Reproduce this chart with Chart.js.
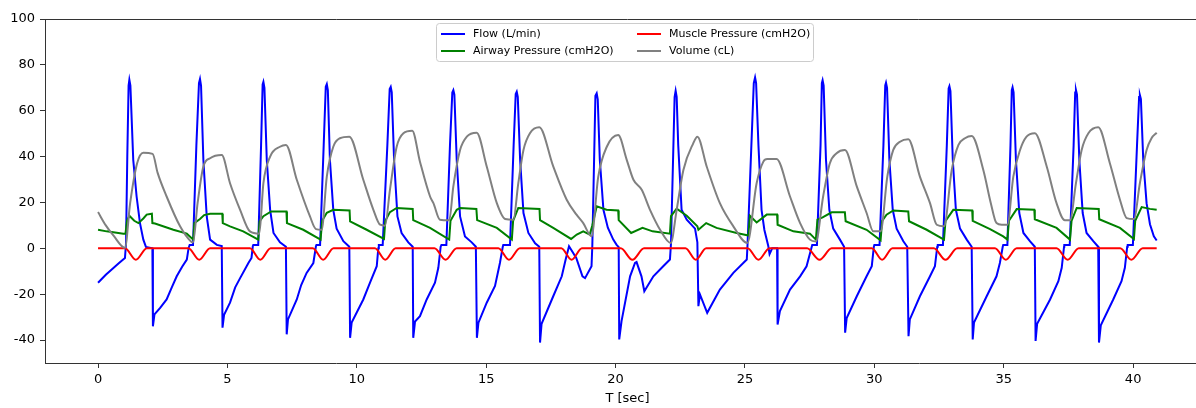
<!DOCTYPE html>
<html lang="en">
<head>
    <meta charset="UTF-8">
    <title>Ventilator waveforms</title>
    <script src="https://cdn.jsdelivr.net/npm/chart.js"></script>
    <style>
        html, body { margin: 0; padding: 0; overflow: hidden; background: #fff; }
        #wrap { width: 1215px; height: 408px; }
    </style>
</head>
<body>
<div id="wrap"><canvas id="myChart" width="1215" height="408"></canvas></div>
<script>
    // [time (s), value] pairs
    const flow = [
        [0,-15],[0.3,-11.5],[0.55,-9],[0.8,-6.5],[1.04,-4.2],[1.08,2],[1.13,40],[1.18,71],[1.21,73.5],[1.25,71],
        [1.36,38.6],[1.49,22.6],[1.62,11],[1.75,3.8],[1.85,0.6],[2.1,0],[2.12,-34],[2.18,-28.8],
        [2.4,-26],[2.65,-22.3],[2.85,-17],[3.04,-12.2],[3.25,-8],[3.43,-4.9],[3.5,0.2],[3.54,1.5],[3.67,1.5],
        [3.8,45],[3.9,72],[3.94,73.8],[3.98,71],[4.07,38.6],[4.2,13.9],[4.33,3.8],[4.59,1.5],[4.78,1],[4.81,-34.6],[4.87,-29],
        [5.1,-23.7],[5.3,-17],[5.49,-13],[5.81,-6.4],[5.93,-4.2],[5.98,0.9],[6.0,1.5],[6.19,1.5],
        [6.3,45],[6.36,71.5],[6.39,72.6],[6.43,70],[6.52,38.6],[6.65,16.8],[6.78,6.7],[7.03,2.6],[7.26,0.7],[7.29,-37.5],[7.34,-31],
        [7.68,-22.3],[7.85,-16],[8.06,-10.7],[8.32,-6.4],[8.42,0.9],[8.44,1.5],[8.58,1.5],
        [8.72,45],[8.8,70.5],[8.84,71.6],[8.88,69],[8.96,38.6],[9.09,16.8],[9.22,8.6],[9.48,3.1],[9.71,0.7],[9.74,-39],[9.8,-32.4],
        [10.25,-22.3],[10.51,-15],[10.77,-7.8],[10.83,0],[10.85,1.5],[11.0,1.5],
        [11.18,45],[11.27,69.5],[11.31,70.4],[11.35,68],[11.44,38.6],[11.57,13.9],[11.73,6.7],[11.99,2.6],[12.16,0.7],[12.18,-39],[12.25,-31.9],
        [12.44,-29.6],[12.7,-22.3],[13.02,-15],[13.15,-8.5],[13.24,0.7],[13.27,1.5],[13.46,1.5],
        [13.6,45],[13.69,68],[13.73,69],[13.77,67],[13.86,38.6],[13.99,13.9],[14.18,5.2],[14.44,2.6],[14.6,0.7],[14.64,-39],[14.7,-32.4],
        [15.02,-23.7],[15.34,-16.4],[15.53,-6.4],[15.64,0.7],[15.66,1.5],[15.92,1.5],
        [16.06,45],[16.14,67.3],[16.18,68.3],[16.22,66],[16.31,38.6],[16.44,15.4],[16.63,6.7],[16.89,2.2],[17.05,0.7],[17.08,-41.1],[17.14,-32.9],
        [17.59,-20.9],[17.92,-12.2],[18.07,-4.9],[18.2,0.9],[18.48,-4.2],[18.72,-12.2],[18.82,-13],[19.07,-7.8],
        [19.1,1],[19.22,66.5],[19.27,67.6],[19.31,65],[19.39,38.6],[19.53,16.8],[19.7,9],[19.91,3.8],[20.04,1.5],[20.12,0.5],[20.14,-39.7],[20.23,-31.7],
        [20.56,-12.2],[20.75,-6.4],[20.81,-6],[21.0,-12.2],[21.11,-18.7],[21.46,-12.2],[21.84,-7.8],[22.1,-4.9],
        [22.14,2],[22.28,66],[22.32,68.7],[22.36,66],[22.42,45],[22.55,16.8],[22.75,12.5],[23.07,8.6],[23.16,2.6],[23.2,-25.2],[23.26,-20.1],
        [23.54,-28.1],[24.03,-18],[24.55,-10.7],[25.07,-4.9],
        [25.1,2],[25.34,72],[25.39,74.5],[25.43,72],[25.52,45],[25.64,16.8],[25.75,8],[25.9,1],[25.95,-2.5],[26.05,0],[26.24,0],[26.26,-33.2],[26.35,-27.4],
        [26.74,-18],[27.13,-12.2],[27.38,-7.8],[27.58,0.7],[27.6,1.5],[27.78,1.5],
        [27.92,45],[27.97,72],[28.0,73.3],[28.04,71],[28.13,38.6],[28.26,16.8],[28.41,8.6],[28.67,3.8],[28.83,0.7],[28.87,-36.8],[28.93,-30.4],
        [29.32,-20.9],[29.7,-12.2],[29.9,-7.8],[29.98,0.7],[30.0,1.5],[30.2,1.5],
        [30.35,45],[30.42,71],[30.45,72.2],[30.49,70],[30.58,38.6],[30.71,16.8],[30.86,8.6],[31.12,3.1],[31.27,0.7],[31.32,-38.3],[31.37,-31],
        [31.76,-20.9],[32.15,-12.2],[32.34,-7.8],[32.43,0.7],[32.45,1.5],[32.65,1.5],
        [32.8,45],[32.87,69.7],[32.9,70.7],[32.94,68.5],[33.03,38.6],[33.15,16.8],[33.31,8.6],[33.57,3.8],[33.76,0.7],[33.8,-39.7],[33.85,-32.4],
        [34.34,-20.9],[34.72,-12.2],[34.85,-6.4],[34.96,0.7],[34.98,1.5],[35.14,1.5],
        [35.26,45],[35.31,69],[35.34,70.2],[35.38,68],[35.47,38.6],[35.6,15.4],[35.76,6.7],[36.01,3.1],[36.2,0.7],[36.23,-40.4],[36.29,-32.9],
        [36.79,-22.3],[37.11,-14.3],[37.24,-8.5],[37.33,0.7],[37.34,1.5],[37.55,1.5],
        [37.7,45],[37.76,68],[37.79,69],[37.83,67],[37.92,38.6],[38.05,15.4],[38.2,6.7],[38.46,3.1],[38.65,0.7],[38.68,-41.1],[38.75,-33.6],
        [39.23,-22.3],[39.55,-14.3],[39.68,-8.5],[39.77,0.7],[39.79,1.5],[39.99,1.5],
        [40.15,45],[40.23,66],[40.26,66.8],[40.3,65],[40.39,38.6],[40.52,19.6],[40.65,10.5],[40.8,5.2],[40.91,3.4]
    ];

    const airway = [
        [0,8.1],[0.33,7.4],[0.98,6.4],[1.06,6.4],[1.12,12],[1.21,14.2],[1.4,12],[1.56,11],[1.75,13],[1.88,14.7],[2.08,15.1],[2.1,11],
        [2.2,10.8],[2.91,8.1],[3.43,6.4],[3.68,3.8],[3.72,11],[3.94,12.8],[4.1,14.5],[4.33,15.1],[4.8,15.1],[4.82,11],
        [5.1,9.6],[5.61,7.4],[6.19,3.8],[6.24,11.7],[6.39,14],[6.69,16.1],[7.28,16.1],[7.3,11],
        [7.93,8.1],[8.6,3.8],[8.66,12],[8.84,15.5],[9.09,16.8],[9.72,16.5],[9.74,11.8],
        [10.38,8.1],[11.05,4.1],[11.1,12],[11.28,15.8],[11.54,17.6],[12.16,17.2],[12.18,12.3],
        [12.83,8.9],[13.57,3.8],[13.62,12],[13.86,16.8],[13.99,17.6],[14.62,17.2],[14.65,12.3],
        [15.41,8.9],[15.99,3.8],[16.04,12],[16.24,17.6],[17.06,17.2],[17.08,12.3],
        [17.59,8.9],[18.28,4.1],[18.5,6],[18.75,7.4],[19.0,6],[19.1,10],[19.27,18.3],[19.65,16.8],[20.1,16.5],[20.12,12.3],
        [20.6,6.7],[21.04,8.9],[21.43,7.4],[22.1,6.4],[22.14,14],[22.36,17.3],[22.75,14.2],[23.16,9.6],[23.2,8.1],
        [23.5,11],[23.9,8.9],[24.68,6.7],[25.13,5.6],[25.19,14.2],[25.45,11.3],[25.84,14.7],[26.24,14.7],[26.26,10.3],
        [26.87,7.4],[27.51,6.4],[27.74,3.8],[27.8,12.5],[28.0,13.5],[28.35,15.7],[28.86,15.7],[28.89,11.8],
        [29.7,8.1],[30.24,3.5],[30.3,12],[30.47,14.7],[30.73,16.5],[31.31,16.1],[31.34,11.8],
        [32.02,8.1],[32.69,3.8],[32.75,12],[33.05,16.8],[33.78,16.5],[33.8,12],
        [34.47,8.4],[34.98,5.2],[35.14,3.8],[35.2,12],[35.5,17.1],[36.18,16.8],[36.2,12.7],
        [37.04,8.9],[37.56,3.8],[37.62,12],[37.82,17.6],[38.67,17.2],[38.69,12.7],
        [39.49,8.9],[40.03,4.1],[40.08,12],[40.33,18],[40.65,17.2],[40.91,16.8]
    ];

    const muscle = [
        [0,0],
        [1.04,0],[1.46,-5],[1.89,0],
        [3.49,0],[3.91,-5],[4.33,0],
        [5.87,0],[6.27,-5],[6.67,0],
        [8.3,0],[8.7,-5],[9.1,0],
        [10.7,0],[11.1,-5],[11.5,0],
        [13.0,0],[13.43,-5],[13.86,0],
        [15.47,0],[15.88,-5],[16.3,0],
        [17.9,0],[18.3,-5],[18.7,0],
        [20.2,0],[20.65,-5],[21.1,0],
        [22.7,0],[23.1,-5],[23.5,0],
        [25.1,0],[25.52,-5],[25.95,0],
        [27.4,0],[27.88,-5],[28.35,0],
        [29.9,0],[30.3,-5],[30.7,0],
        [32.3,0],[32.75,-5],[33.2,0],
        [34.66,0],[35.08,-5],[35.5,0],
        [37.04,0],[37.47,-5],[37.9,0],
        [39.5,0],[39.93,-5],[40.37,0],
        [40.91,0]
    ];

    const volume = [
        [0,15.8],[0.3,10],[0.6,5.5],[1.04,0.2],[1.24,19.7],[1.51,37.1],[1.75,41.7],[2.11,41.2],
        [2.3,33],[2.65,22.6],[3.17,9.6],[3.59,3],[3.67,2.6],[3.85,20],[4.07,35.7],[4.33,39.3],[4.78,40.7],
        [5.1,28.4],[5.49,16.8],[5.87,7.4],[6.23,6.4],[6.39,28.4],[6.65,40],[7.03,44.3],[7.26,45.1],
        [7.68,29.9],[8.19,13.9],[8.42,8.4],[8.64,8.1],[8.84,31.3],[9.09,44.3],[9.35,48],[9.71,48.7],
        [10.25,29.9],[10.64,16.8],[10.9,10.3],[11.09,9.9],[11.28,25.5],[11.54,44.3],[11.8,50.2],[12.14,51.3],
        [12.44,37.8],[12.83,22.6],[12.96,19.7],[13.21,12.5],[13.57,12.2],[13.73,27],[13.99,42.9],[14.25,48.7],[14.63,50.4],
        [15.02,35.7],[15.41,19.7],[15.73,12.8],[16.05,12.5],[16.24,28.4],[16.44,42.9],[16.69,50.2],[17.05,52.8],
        [17.59,35.7],[18.11,21.2],[18.49,14.7],[18.75,11],[19.07,5.2],[19.33,31.3],[19.66,44.3],[20.1,49.4],
        [20.43,38.6],[20.69,29.9],[21.01,25.5],[21.33,16.8],[21.72,8.1],[22.13,2.3],[22.36,16.8],[22.62,34.2],[23.0,45.8],[23.16,48.7],
        [23.52,35.7],[24.03,19.7],[24.55,9.6],[25.09,2.3],[25.45,28.4],[25.71,37.8],[25.86,38.9],[26.22,38.9],
        [26.74,22.6],[27.13,11],[27.51,3.8],[27.74,3],[28.02,22.6],[28.28,37.1],[28.54,41.5],[28.86,42.9],
        [29.32,27],[29.7,15.4],[29.96,7.4],[30.24,7.4],[30.5,31.3],[30.73,42.9],[30.99,46.5],[31.31,47.6],
        [31.76,31.3],[32.15,19.7],[32.41,10.3],[32.69,9.6],[32.99,34.2],[33.25,45.1],[33.5,48],[33.76,49],
        [34.21,34.2],[34.5,19.7],[34.72,11],[34.92,10.3],[35.14,10.3],[35.37,31.3],[35.63,42.9],[35.88,48.7],[36.2,50.2],
        [36.66,35.7],[37.04,19.7],[37.36,12.2],[37.56,12.2],[37.79,28.4],[38.01,42.9],[38.27,50.2],[38.65,52.8],
        [39.1,37.1],[39.49,21.2],[39.75,13.2],[40.03,12.8],[40.26,28.4],[40.52,42.9],[40.71,48],[40.91,50.4]
    ];

    const xTicks = [0, 5, 10, 15, 20, 25, 30, 35, 40];
    const yTicks = [-40, -20, 0, 20, 40, 60, 80, 100];

    const axisColor = '#333';
    const font = 'DejaVu Sans';

    function toXY(pairs) {
        return pairs.map(p => ({x: p[0], y: p[1]}));
    }

    // top spine + two column legend like matplotlib
    const framePlugin = {
        id: 'frame',
        afterDraw(chart) {
            const ctx = chart.ctx;
            const a = chart.chartArea;
            ctx.save();
            ctx.strokeStyle = axisColor;
            ctx.lineWidth = 1;
            ctx.beginPath();
            ctx.moveTo(a.left, a.top + 0.5);
            ctx.lineTo(a.right, a.top + 0.5);
            ctx.stroke();

            ctx.beginPath();
            ctx.roundRect(436.5, 23.5, 377, 38, 3);
            ctx.fillStyle = 'rgba(255,255,255,0.8)';
            ctx.fill();
            ctx.strokeStyle = '#cccccc';
            ctx.stroke();

            const colX = [441, 637];
            const rowY = [34, 51];
            chart.data.datasets.forEach((ds, i) => {
                const x = colX[Math.floor(i / 2)];
                const y = rowY[i % 2];
                ctx.strokeStyle = ds.borderColor;
                ctx.lineWidth = 2;
                ctx.beginPath();
                ctx.moveTo(x, y);
                ctx.lineTo(x + 24, y);
                ctx.stroke();
                ctx.fillStyle = '#000';
                ctx.font = '11px "' + font + '"';
                ctx.textBaseline = 'middle';
                ctx.fillText(ds.label, x + 32, y + 0.5);
            });
            ctx.restore();
        }
    };

    Chart.defaults.font.family = font;
    Chart.defaults.color = '#000';

    new Chart(document.getElementById('myChart'), {
        type: 'line',
        data: {
            datasets: [
                {label: 'Flow (L/min)', data: toXY(flow), borderColor: '#0000ff', order: 4},
                {label: 'Airway Pressure (cmH2O)', data: toXY(airway), borderColor: '#008000', order: 3},
                {label: 'Muscle Pressure (cmH2O)', data: toXY(muscle), borderColor: '#ff0000', order: 2, cubicInterpolationMode: 'monotone'},
                {label: 'Volume (cL)', data: toXY(volume), borderColor: '#808080', order: 1, cubicInterpolationMode: 'monotone'}
            ]
        },
        options: {
            responsive: false,
            animation: false,
            events: [],
            layout: {padding: {top: 19, right: 5, left: 0, bottom: 0}},
            elements: {
                point: {radius: 0},
                line: {borderWidth: 2, fill: false, tension: 0}
            },
            plugins: {
                legend: {display: false},
                tooltip: {enabled: false}
            },
            scales: {
                x: {
                    type: 'linear',
                    min: -2.05,
                    max: 42.97,
                    afterFit: s => { s.height = 45; },
                    afterBuildTicks: s => { s.ticks = xTicks.map(v => ({value: v})); },
                    grid: {drawOnChartArea: false, color: axisColor, tickLength: 5},
                    border: {color: axisColor},
                    ticks: {font: {size: 13}, padding: 4, maxRotation: 0},
                    title: {display: true, text: 'T [sec]', font: {size: 13}, padding: {top: 2, bottom: 2}}
                },
                y: {
                    min: -50,
                    max: 100,
                    afterFit: s => { s.width = 45; },
                    afterBuildTicks: s => { s.ticks = yTicks.map(v => ({value: v})); },
                    grid: {drawOnChartArea: false, color: axisColor, tickLength: 5},
                    border: {color: axisColor},
                    ticks: {font: {size: 13}, padding: 5}
                }
            }
        },
        plugins: [framePlugin]
    });
</script>
</body>
</html>
